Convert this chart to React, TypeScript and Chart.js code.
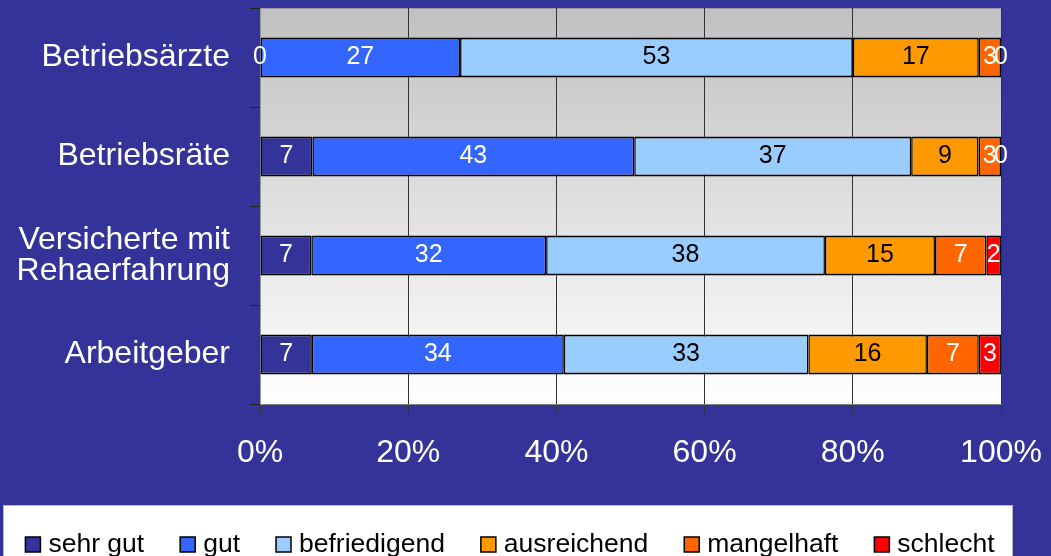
import React, { useEffect, useRef } from 'react';
import { Chart, registerables } from 'chart.js';

Chart.register(...registerables);

const FONT = "'Liberation Sans', Arial, sans-serif";

const categories: (string | string[])[] = [
  'Betriebsärzte',
  'Betriebsräte',
  ['Versicherte mit', 'Rehaerfahrung'],
  'Arbeitgeber',
];
const seriesNames = ['sehr gut', 'gut', 'befriedigend', 'ausreichend', 'mangelhaft', 'schlecht'];
const sehrGut = [0, 7, 7, 7];
const gut = [27, 43, 32, 34];
const befriedigend = [53, 37, 38, 33];
const ausreichend = [17, 9, 15, 16];
const mangelhaft = [3, 3, 7, 7];
const schlecht = [0, 0, 2, 3];
const xTickValues = [0, 20, 40, 60, 80, 100];

const seriesValues = [sehrGut, gut, befriedigend, ausreichend, mangelhaft, schlecht];
const seriesColors = ['#333399', '#3366FF', '#99CCFF', '#FF9900', '#FF6600', '#FF0000'];
const labelColors = ['#FFFFFF', '#FFFFFF', '#000000', '#000000', '#FFFFFF', '#FFFFFF'];

const totals = categories.map((_, i) => seriesValues.reduce((s, arr) => s + arr[i], 0));

const bgPlugin = {
  id: 'bgPlugin',
  beforeDraw(chart: any) {
    const { ctx, chartArea: a, width, height } = chart;
    ctx.save();
    ctx.fillStyle = '#333399';
    ctx.fillRect(0, 0, width, height);
    const g = ctx.createLinearGradient(0, a.top, 0, a.bottom);
    g.addColorStop(0, '#c0c0c0');
    g.addColorStop(0.5, '#e0e0e0');
    g.addColorStop(1, '#ffffff');
    ctx.fillStyle = g;
    ctx.fillRect(a.left, a.top, a.right - a.left, a.bottom - a.top);
    ctx.strokeStyle = '#9a9ab0';
    ctx.lineWidth = 1;
    ctx.strokeRect(a.left + 0.5, a.top + 0.5, a.right - a.left, a.bottom - a.top);
    ctx.restore();
  },
};

const valuePlugin = {
  id: 'valuePlugin',
  afterDatasetsDraw(chart: any) {
    const ctx = chart.ctx;
    ctx.save();
    ctx.font = `25px ${FONT}`;
    ctx.textAlign = 'center';
    ctx.textBaseline = 'middle';
    chart.data.datasets.forEach((_: any, di: number) => {
      const meta = chart.getDatasetMeta(di);
      meta.data.forEach((el: any, i: number) => {
        const { x, base, y } = el.getProps(['x', 'base', 'y'], true);
        ctx.fillStyle = labelColors[di];
        ctx.fillText(String(seriesValues[di][i]), (x + base) / 2, y);
      });
    });
    ctx.restore();
  },
};

const legendPlugin = {
  id: 'legendPlugin',
  afterDraw(chart: any) {
    const ctx = chart.ctx;
    const top = 505;
    const left = 3;
    const right = 1013;
    ctx.save();
    ctx.fillStyle = '#ffffff';
    ctx.fillRect(left, top, right - left, chart.height - top + 2);
    ctx.strokeStyle = '#b8b8d0';
    ctx.lineWidth = 1;
    ctx.strokeRect(left + 0.5, top + 0.5, right - left - 1, chart.height - top + 5);
    ctx.font = `26.5px ${FONT}`;
    const box = 15;
    const gap = 8;
    const spacing = 36;
    const widths = seriesNames.map((n) => ctx.measureText(n).width);
    const total = widths.reduce((s, w) => s + box + gap + w, 0) + spacing * (seriesNames.length - 1);
    let x = (left + right) / 2 - total / 2 + 2;
    const baseline = 552;
    seriesNames.forEach((n, i) => {
      ctx.fillStyle = seriesColors[i];
      ctx.fillRect(x, baseline - box, box, box);
      ctx.strokeStyle = '#000000';
      ctx.lineWidth = 1.5;
      ctx.strokeRect(x, baseline - box, box, box);
      ctx.fillStyle = '#000000';
      ctx.textAlign = 'left';
      ctx.textBaseline = 'alphabetic';
      ctx.fillText(n, x + box + gap, baseline);
      x += box + gap + widths[i] + spacing;
    });
    ctx.restore();
  },
};

export default function App() {
  const ref = useRef<HTMLCanvasElement | null>(null);

  useEffect(() => {
    document.body.style.margin = '0';
    const canvas = ref.current;
    if (!canvas) return;
    const chart = new Chart(canvas, {
      type: 'bar',
      data: {
        labels: categories as any,
        datasets: seriesNames.map((name, di) => ({
          label: name,
          data: seriesValues[di].map((v, i) => (v / totals[i]) * 100),
          backgroundColor: seriesColors[di],
          borderColor: '#000000',
          borderWidth: { top: 2, bottom: 2, left: 1.5, right: 1.5 },
          borderSkipped: false,
          categoryPercentage: 1,
          barPercentage: 0.404,
        })),
      },
      options: {
        indexAxis: 'y',
        responsive: false,
        animation: false,
        devicePixelRatio: 1,
        layout: { padding: { top: 8, right: 50, bottom: 82, left: 0 } },
        plugins: {
          legend: { display: false },
          tooltip: { enabled: false },
        },
        scales: {
          x: {
            type: 'linear',
            stacked: true,
            min: 0,
            max: 100,
            afterBuildTicks: (scale: any) => {
              scale.ticks = xTickValues.map((v) => ({ value: v }));
            },
            afterFit: (scale: any) => {
              scale.height = 70;
              scale.paddingLeft = 0;
              scale.paddingRight = 0;
            },
            ticks: {
              color: '#ffffff',
              font: { family: FONT, size: 32 },
              padding: 20,
              maxRotation: 0,
              autoSkip: false,
              callback: (v: any) => `${v}%`,
            },
            grid: {
              color: '#333333',
              lineWidth: 1,
              tickLength: 10,
              drawOnChartArea: true,
            },
            border: { color: '#808080', width: 1 },
          },
          y: {
            type: 'category',
            stacked: true,
            offset: true,
            afterFit: (scale: any) => {
              scale.width = 260;
              scale.paddingTop = 0;
              scale.paddingBottom = 0;
            },
            ticks: {
              color: '#ffffff',
              font: { family: FONT, size: 32, lineHeight: 0.95 },
              padding: 20,
              autoSkip: false,
            },
            grid: {
              offset: true,
              color: '#222222',
              tickLength: 10,
              drawOnChartArea: false,
            },
            border: { color: '#999999', width: 1 },
          },
        },
      },
      plugins: [bgPlugin, valuePlugin, legendPlugin],
    });
    return () => chart.destroy();
  }, []);

  return <canvas ref={ref} width={1051} height={556} style={{ display: 'block' }} />;
}
